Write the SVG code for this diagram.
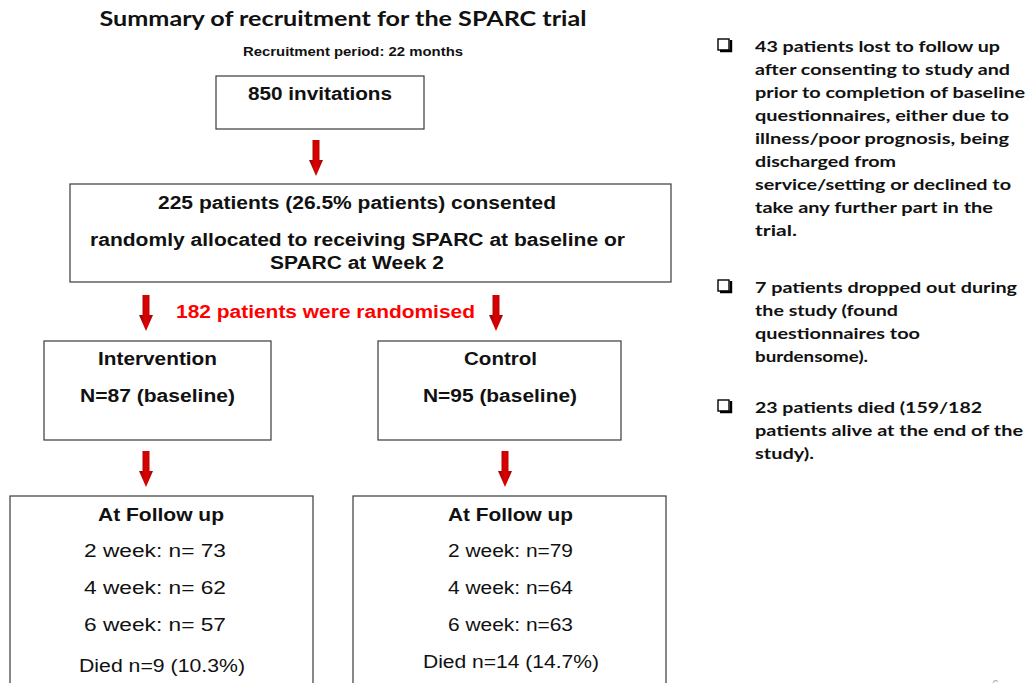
<svg xmlns="http://www.w3.org/2000/svg" width="1026" height="683" viewBox="0 0 1026 683">
  <style>
    .box { fill: #ffffff; stroke: #3a3a3a; stroke-width: 1.2; }
    .hb { font-family: "Liberation Sans", Arial, sans-serif; font-weight: bold; fill: #111; text-anchor: middle; }
    .hr { font-family: "Liberation Sans", Arial, sans-serif; fill: #111; text-anchor: middle; }
    .cal { font-family: Lato, "Open Sans", sans-serif; font-weight: bold; fill: #111; font-size: 16px; }
    .chk { fill: #ffffff; stroke: #000; stroke-width: 1.4; }
  </style>
  <defs>
    <linearGradient id="redShade" x1="0" y1="0" x2="1" y2="0">
      <stop offset="0" stop-color="#8a0a0a"/>
      <stop offset="0.5" stop-color="#e00000"/>
      <stop offset="1" stop-color="#a00808"/>
    </linearGradient>
    <!-- downward block arrow, origin at top centre, 36px long -->
    <path id="downArrow" d="M-3.5,0 H3.5 V20 H7 L0,36 L-7,20 H-3.5 Z" fill="url(#redShade)"/>
    <!-- checkbox bullet with drop shadow -->
    <g id="checkBox">
      <rect x="0" y="0" width="11" height="11" class="chk"/>
      <path d="M2,12 H13 V1" fill="none" stroke="#000" stroke-width="2.4"/>
    </g>
  </defs>

  <rect width="1026" height="683" fill="#ffffff"/>

  <!-- heading -->
  <text x="343" y="26" font-family="Lato, 'Open Sans', sans-serif" font-weight="bold" font-size="21" fill="#111" text-anchor="middle" textLength="487" lengthAdjust="spacingAndGlyphs">Summary of recruitment for the SPARC trial</text>
  <text x="353" y="56" class="hb" font-size="13" textLength="220" lengthAdjust="spacingAndGlyphs">Recruitment period: 22 months</text>

  <!-- connectors -->
  <g id="connectors">
    <use href="#downArrow" x="316" y="140"/>
    <use href="#downArrow" x="146" y="295"/>
    <use href="#downArrow" x="496" y="295"/>
    <use href="#downArrow" x="146" y="451"/>
    <use href="#downArrow" x="505" y="451"/>
  </g>

  <text x="325.5" y="318" font-family="'Liberation Sans', Arial, sans-serif" font-weight="bold" font-size="18" fill="#ff0000" text-anchor="middle" textLength="299" lengthAdjust="spacingAndGlyphs">182 patients were randomised</text>

  <g id="invitations">
    <rect x="216" y="76" width="208" height="53" class="box"/>
    <text x="320" y="100" class="hb" font-size="18" textLength="144" lengthAdjust="spacingAndGlyphs">850 invitations</text>
  </g>

  <g id="consented">
    <rect x="70" y="184" width="601" height="98" class="box"/>
    <text x="357" y="209" class="hb" font-size="17.5" textLength="398" lengthAdjust="spacingAndGlyphs">225 patients (26.5% patients) consented</text>
    <text x="357.5" y="246" class="hb" font-size="17.5" textLength="535" lengthAdjust="spacingAndGlyphs">randomly allocated to receiving SPARC at baseline or</text>
    <text x="357" y="269" class="hb" font-size="17.5" textLength="174" lengthAdjust="spacingAndGlyphs">SPARC at Week 2</text>
  </g>

  <g id="intervention">
    <rect x="44" y="341" width="227" height="99" class="box"/>
    <text x="157.5" y="365" class="hb" font-size="18" textLength="119" lengthAdjust="spacingAndGlyphs">Intervention</text>
    <text x="157.5" y="402" class="hb" font-size="18" textLength="155" lengthAdjust="spacingAndGlyphs">N=87 (baseline)</text>
  </g>

  <g id="control">
    <rect x="378" y="341" width="243" height="99" class="box"/>
    <text x="500.5" y="365" class="hb" font-size="18" textLength="73" lengthAdjust="spacingAndGlyphs">Control</text>
    <text x="500" y="402" class="hb" font-size="18" textLength="154" lengthAdjust="spacingAndGlyphs">N=95 (baseline)</text>
  </g>

  <g id="followup-intervention">
    <rect x="10" y="496" width="303" height="200" class="box"/>
    <text x="161" y="521" class="hb" font-size="18" textLength="126" lengthAdjust="spacingAndGlyphs">At Follow up</text>
    <text x="155" y="557" class="hr" font-size="18" textLength="142" lengthAdjust="spacingAndGlyphs">2 week: n= 73</text>
    <text x="155" y="594" class="hr" font-size="18" textLength="142" lengthAdjust="spacingAndGlyphs">4 week: n= 62</text>
    <text x="155" y="631" class="hr" font-size="18" textLength="142" lengthAdjust="spacingAndGlyphs">6 week: n= 57</text>
    <text x="162" y="672" class="hr" font-size="18" textLength="166" lengthAdjust="spacingAndGlyphs">Died n=9 (10.3%)</text>
  </g>

  <g id="followup-control">
    <rect x="353" y="496" width="313" height="200" class="box"/>
    <text x="510.5" y="521" class="hb" font-size="18" textLength="125" lengthAdjust="spacingAndGlyphs">At Follow up</text>
    <text x="510.5" y="557" class="hr" font-size="18" textLength="125" lengthAdjust="spacingAndGlyphs">2 week: n=79</text>
    <text x="510.5" y="594" class="hr" font-size="18" textLength="125" lengthAdjust="spacingAndGlyphs">4 week: n=64</text>
    <text x="510.5" y="631" class="hr" font-size="18" textLength="125" lengthAdjust="spacingAndGlyphs">6 week: n=63</text>
    <text x="511" y="668" class="hr" font-size="18" textLength="176" lengthAdjust="spacingAndGlyphs">Died n=14 (14.7%)</text>
  </g>

  <!-- side notes -->
  <g id="notes">
    <use href="#checkBox" x="718" y="39"/>
    <text class="cal" x="755" y="52" textLength="245" lengthAdjust="spacingAndGlyphs">43 patients lost to follow up</text>
    <text class="cal" x="755" y="75" textLength="255" lengthAdjust="spacingAndGlyphs">after consenting to study and</text>
    <text class="cal" x="755" y="98" textLength="270" lengthAdjust="spacingAndGlyphs">prior to completion of baseline</text>
    <text class="cal" x="755" y="121" textLength="254" lengthAdjust="spacingAndGlyphs">questionnaires, either due to</text>
    <text class="cal" x="755" y="144" textLength="254" lengthAdjust="spacingAndGlyphs">illness/poor prognosis, being</text>
    <text class="cal" x="755" y="167" textLength="141" lengthAdjust="spacingAndGlyphs">discharged from</text>
    <text class="cal" x="755" y="190" textLength="256" lengthAdjust="spacingAndGlyphs">service/setting or declined to</text>
    <text class="cal" x="755" y="213" textLength="238" lengthAdjust="spacingAndGlyphs">take any further part in the</text>
    <text class="cal" x="755" y="236" textLength="42" lengthAdjust="spacingAndGlyphs">trial.</text>

    <use href="#checkBox" x="718" y="280"/>
    <text class="cal" x="755" y="293" textLength="262" lengthAdjust="spacingAndGlyphs">7 patients dropped out during</text>
    <text class="cal" x="755" y="316" textLength="143" lengthAdjust="spacingAndGlyphs">the study (found</text>
    <text class="cal" x="755" y="339" textLength="165" lengthAdjust="spacingAndGlyphs">questionnaires too</text>
    <text class="cal" x="755" y="362" textLength="113" lengthAdjust="spacingAndGlyphs">burdensome).</text>

    <use href="#checkBox" x="718" y="400"/>
    <text class="cal" x="755" y="413" textLength="227" lengthAdjust="spacingAndGlyphs">23 patients died (159/182</text>
    <text class="cal" x="755" y="436" textLength="268" lengthAdjust="spacingAndGlyphs">patients alive at the end of the</text>
    <text class="cal" x="755" y="459" textLength="59" lengthAdjust="spacingAndGlyphs">study).</text>
  </g>

  <!-- page number -->
  <text x="992" y="689" font-family="'Liberation Sans', Arial, sans-serif" font-size="12" fill="#aaaaaa">6</text>
</svg>
